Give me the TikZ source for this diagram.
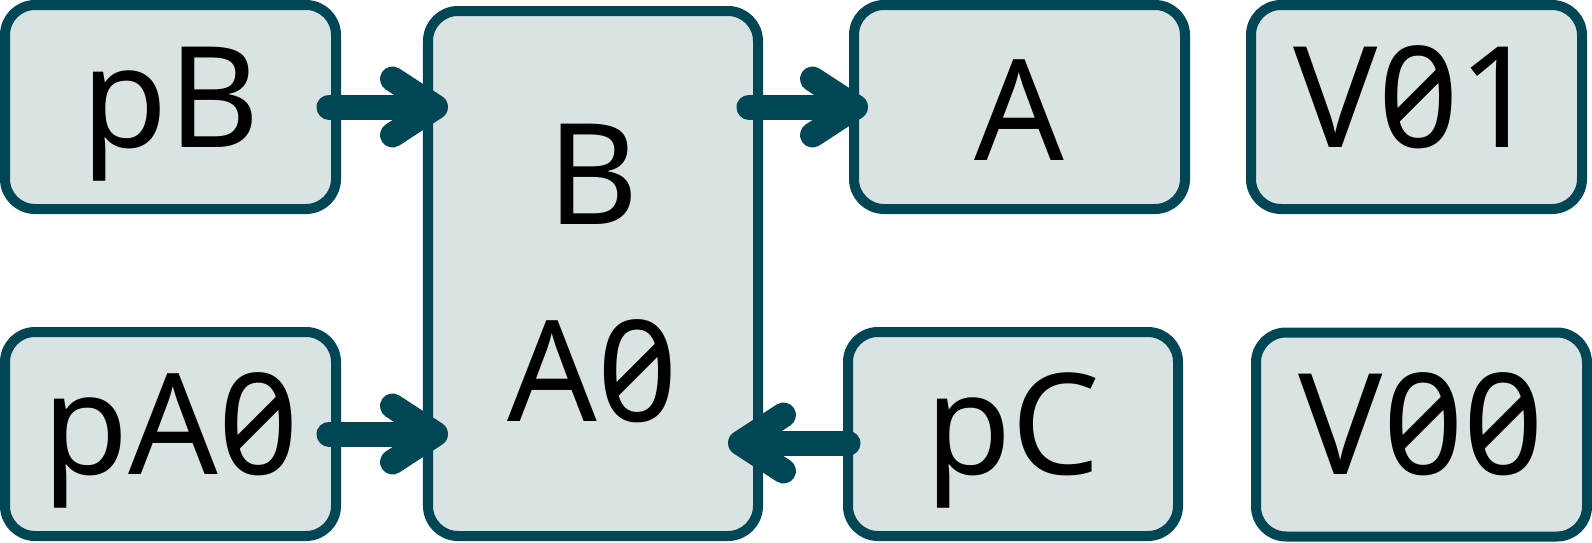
\documentclass[tikz,border=0pt]{standalone}
\usepackage{fontspec}
\setsansfont{Noto Sans}[RawFeature=+zero]
\usepackage{tikz}
\usetikzlibrary{arrows.meta, calc, positioning}
\definecolor{myteal}{RGB}{0, 70, 85}
\definecolor{mygray}{RGB}{218, 227, 227}

\begin{document}
\begin{tikzpicture}[
	box/.style={draw=myteal, fill=mygray, line width=0.1cm, rounded corners=0.3cm,
		minimum width=3.31cm, minimum height=2.04cm, inner sep=0pt, outer sep=0pt,
		font=\sffamily\fontsize{40}{56}\selectfont, text height=1.0cm, text depth=0.2cm},
	flow/.style={draw=myteal, line width=0.25cm, line cap=round,
		-{Straight Barb[round, length=0.43cm, width=0.56cm]}}
	]
	
	% margins
	\useasboundingbox (0,0) rectangle (15.92,5.42);
	
	% left column
	\node[box] (pB) at (1.705,4.35) {pB};
	\node[box] (pA0) at (1.705,1.08) {pA0};
	
	% middle block
	\node[box, minimum width=3.30cm, minimum height=5.25cm, align=center,
		text height=, text depth=] (B) at (5.93,2.685) {B\\A0};
	
	% right column
	\node[box, text height=1.06cm, text depth=0cm] (A) at (10.195,4.35) {A};
	\node[box, minimum width=3.30cm] (pC) at (10.13,1.08) {pC};
	
	% values
	\node[box] (V01) at (14.165,4.35) {V01};
	\node[box] (V00) at (14.215,1.075) {V00};
	
	% arrows
	\draw[flow] ([xshift=-0.07cm]pB.east) -- ([xshift=0.2cm]B.west |- pB.east);
	\draw[flow] ([xshift=-0.07cm]pA0.east) -- ([xshift=0.2cm]B.west |- pA0.east);
	\draw[flow] ([xshift=-0.09cm]B.east |- A.west) -- ([xshift=0.14cm]A.west);
	\draw[flow] ([yshift=-0.09cm]pC.west) -- ([xshift=-0.3cm,yshift=-0.09cm]B.east |- pC.west);
	
\end{tikzpicture}
\end{document}
